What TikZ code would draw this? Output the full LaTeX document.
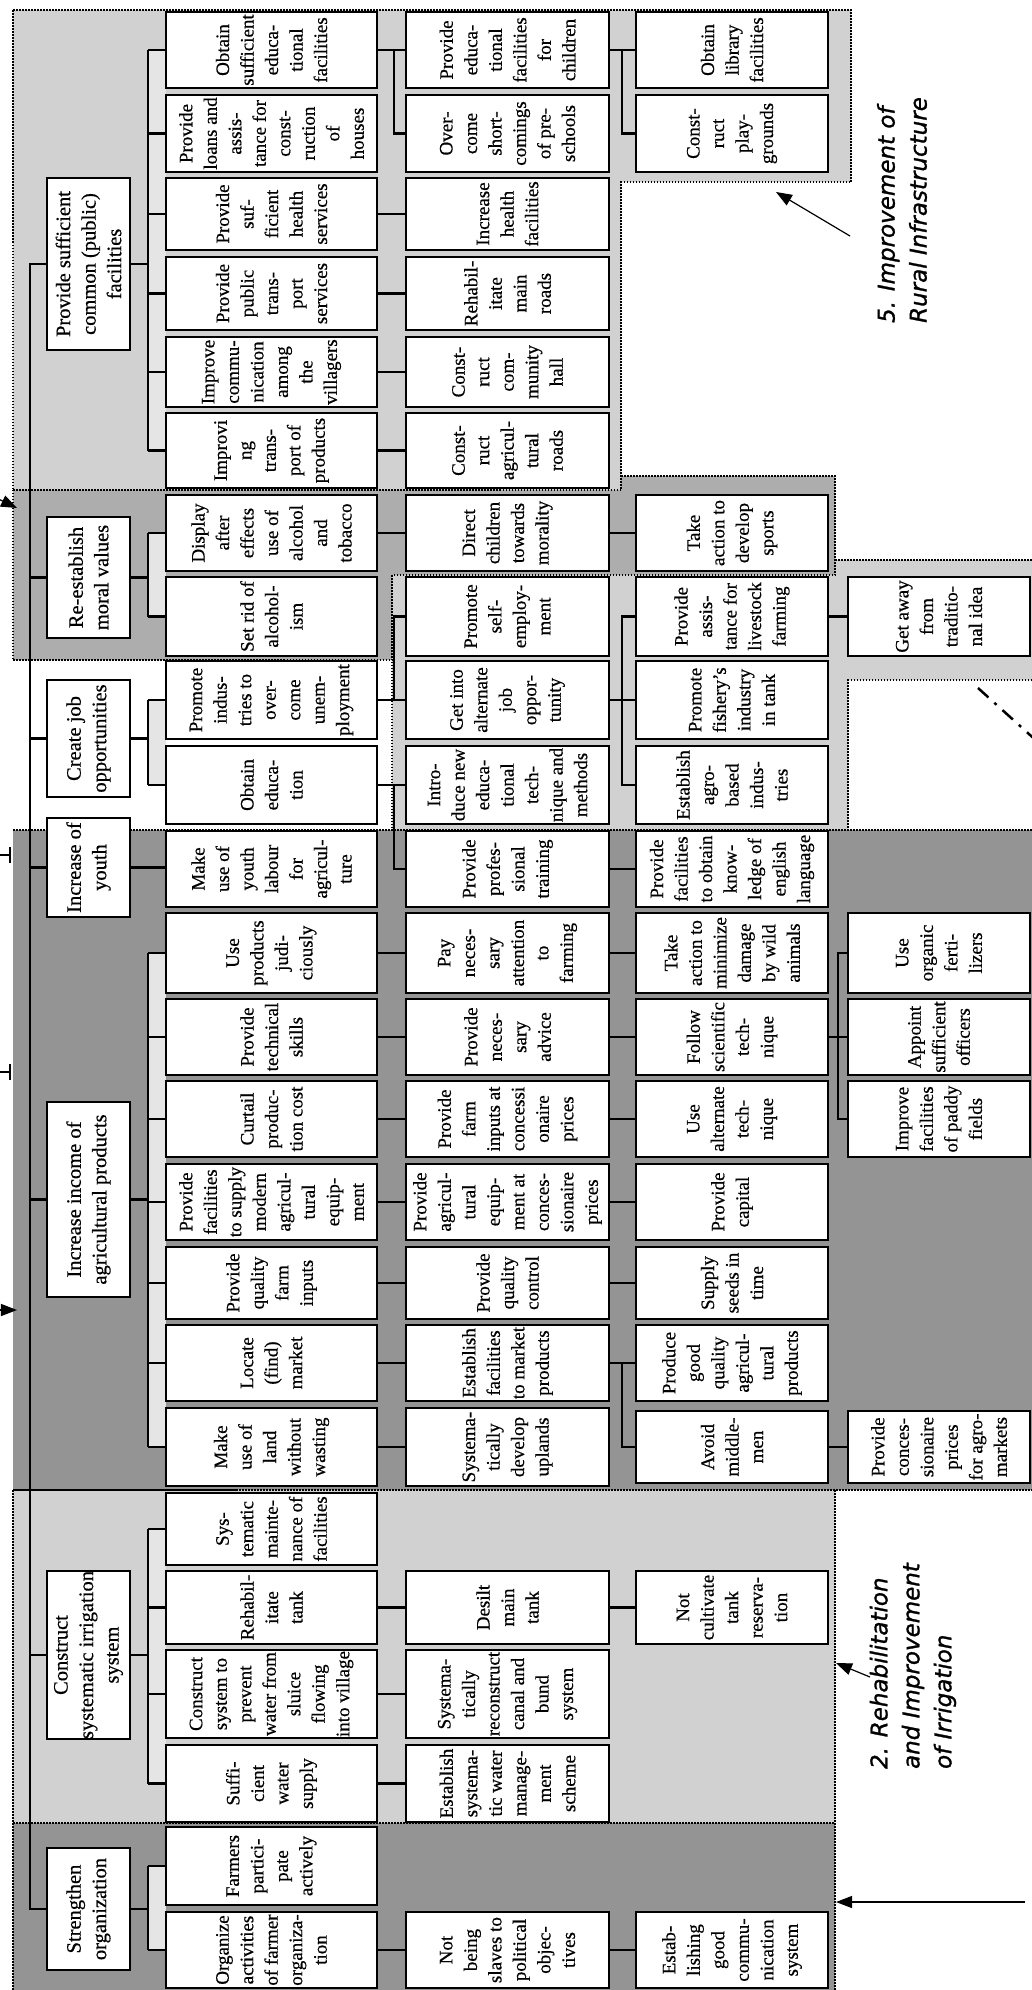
\documentclass[tikz,border=0pt]{standalone}
\usepackage{fontspec}
\setmainfont{Liberation Serif}[FakeBold=0.5]
\newfontfamily\labelfont{DejaVu Sans}[FakeBold=1.2]
\usetikzlibrary{arrows.meta}
\tikzset{
  cell/.style={
    rectangle, draw=black, line width=1.6pt, fill=white, rotate=90,
    align=center, inner sep=0pt, font=\fontsize{19}{24.5}\selectfont,
    minimum width=76pt
  },
  lvone/.style={cell, minimum height=83pt, font=\fontsize{20.5}{25.5}\selectfont},
  lvtwo/.style={cell, minimum height=211pt},
  lvthree/.style={cell, minimum height=203pt},
  lvfour/.style={cell, minimum height=192pt},
  lvfive/.style={cell, minimum height=182pt},
  conn/.style={line width=2.4pt, draw=black},
  railstrip/.style={fill=black!10},
  zoneborder/.style={line width=1.8pt, dash pattern=on 1.5pt off 1.5pt, draw=black},
  lightzone/.style={fill=black!18},
  midzone/.style={fill=black!32},
  darkzone/.style={fill=black!42},
  arealabel/.style={rotate=90, align=left, font=\labelfont\itshape\fontsize{23}{32}\selectfont},
  pointer/.style={-{Triangle[length=16pt, width=12pt]}, line width=1.2pt}
}
\begin{document}
\begin{tikzpicture}[x=1pt, y=-1pt]
\useasboundingbox (0,0) rectangle (1032,1990);

% shaded zones
\fill[lightzone] (13,10) -- (851,10) -- (851,182) -- (621,182) -- (621,490) -- (13,490) -- cycle;
\fill[midzone] (13,490) -- (621,490) -- (621,476) -- (835,476) -- (835,575) -- (392,575) -- (392,660) -- (13,660) -- cycle;
\fill[lightzone] (392,575) -- (835,575) -- (835,560) -- (1032,560) -- (1032,680) -- (848,680) -- (848,830) -- (392,830) -- cycle;
\fill[darkzone] (13,830) -- (1032,830) -- (1032,1490) -- (13,1490) -- cycle;
\fill[lightzone] (13,1490) -- (835,1490) -- (835,1823) -- (13,1823) -- cycle;
\fill[darkzone] (13,1823) -- (835,1823) -- (835,1990) -- (13,1990) -- cycle;

\draw[zoneborder] (13,10) -- (851,10) -- (851,182) -- (621,182) -- (621,490) -- (13,490) -- cycle;
\draw[zoneborder] (621,476) -- (835,476) -- (835,575) -- (392,575) -- (392,660) -- (13,660) -- (13,490);
\draw[zoneborder] (835,560) -- (1032,560) (1032,680) -- (848,680) -- (848,830) -- (392,830) -- (392,660);
\draw[zoneborder] (13,830) -- (1032,830) (1032,1490) -- (13,1490) -- cycle;
\draw[zoneborder] (835,1490) -- (835,1990) (13,1823) -- (835,1823) (13,1490) -- (13,1990);

% light strips behind the first rails
\fill[railstrip] (148,50) rectangle (166,450.5);
\fill[railstrip] (148,533) rectangle (166,616.5);
\fill[railstrip] (148,700) rectangle (166,785);
\fill[railstrip] (148,953) rectangle (166,1447);
\fill[railstrip] (148,1529) rectangle (166,1783.5);
\fill[railstrip] (148,1866) rectangle (166,1950);

% level 1
\node[lvone, minimum width=172pt] (fac) at (88.5,264) {Provide sufficient\\common (public)\\facilities};
\node[lvone, minimum width=121pt] (moral) at (88.5,577.5) {Re-establish\\moral values};
\node[lvone, minimum width=117pt] (job) at (88.5,738.5) {Create job\\opportunities};
\node[lvone, minimum width=99pt] (youth) at (88.5,867.5) {Increase of\\youth};
\node[lvone, minimum width=195pt] (income) at (88.5,1199.5) {Increase income of\\agricultural products};
\node[lvone, minimum width=156pt] (irrig) at (88.5,1655) {Construct\\systematic irrigation\\system};
\node[lvone, minimum width=122pt] (org) at (88.5,1909) {Strengthen\\organization};

% level 2
\node[lvtwo] (b1) at (271.5,50) {Obtain\\sufficient\\educa-\\tional\\facilities};
\node[lvtwo, minimum width=77pt] (b2) at (271.5,133.5) {Provide\\loans and\\assis-\\tance for\\const-\\ruction\\of\\houses};
\node[lvtwo, minimum width=72pt] (b3) at (271.5,214) {Provide\\suf-\\ficient\\health\\services};
\node[lvtwo, minimum width=73pt] (b4) at (271.5,293.5) {Provide\\public\\trans-\\port\\services};
\node[lvtwo, minimum width=70pt] (b5) at (271.5,372) {Improve\\commu-\\nication\\among\\the\\villagers};
\node[lvtwo, minimum width=75pt] (b6) at (271.5,450.5) {Improvi\\ng\\trans-\\port of\\products};
\node[lvtwo] (b7) at (271.5,533) {Display\\after\\effects\\use of\\alcohol\\and\\tobacco};
\node[lvtwo, minimum width=79pt] (b8) at (271.5,616.5) {Set rid of\\alcohol-\\ism};
\node[lvtwo, minimum width=78pt] (b9) at (271.5,700) {Promote\\indus-\\tries to\\over-\\come\\unem-\\ployment};
\node[lvtwo, minimum width=78pt] (b10) at (271.5,785) {Obtain\\educa-\\tion};
\node[lvtwo] (b11) at (271.5,869) {Make\\use of\\youth\\labour\\for\\agricul-\\ture};
\node[lvtwo, minimum width=80pt] (b12) at (271.5,953) {Use\\products\\judi-\\ciously};
\node[lvtwo] (b13) at (271.5,1037) {Provide\\technical\\skills};
\node[lvtwo] (b14) at (271.5,1119) {Curtail\\produc-\\tion cost};
\node[lvtwo] (b15) at (271.5,1202) {Provide\\facilities\\to supply\\modern\\agricul-\\tural\\equip-\\ment};
\node[lvtwo, minimum width=72pt] (b16) at (271.5,1283) {Provide\\quality\\farm\\inputs};
\node[lvtwo] (b17) at (271.5,1363) {Locate\\(find)\\market};
\node[lvtwo, minimum width=78pt] (b18) at (271.5,1447) {Make\\use of\\land\\without\\wasting};
\node[lvtwo, minimum width=72pt] (b19) at (271.5,1529) {Sys-\\tematic\\mainte-\\nance of\\facilities};
\node[lvtwo, minimum width=73pt] (b20) at (271.5,1607.5) {Rehabil-\\itate\\tank};
\node[lvtwo, minimum width=88pt] (b21) at (271.5,1694) {Construct\\system to\\prevent\\water from\\sluice\\flowing\\into village};
\node[lvtwo, minimum width=77pt] (b22) at (271.5,1783.5) {Suffi-\\cient\\water\\supply};
\node[lvtwo, minimum width=78pt] (b23) at (271.5,1866) {Farmers\\partici-\\pate\\actively};
\node[lvtwo] (b24) at (271.5,1950) {Organize\\activities\\of farmer\\organiza-\\tion};

% level 3
\node[lvthree] (c1) at (507.5,50) {Provide\\educa-\\tional\\facilities\\for\\children};
\node[lvthree, minimum width=77pt] (c2) at (507.5,133.5) {Over-\\come\\short-\\comings\\of pre-\\schools};
\node[lvthree, minimum width=72pt] (c3) at (507.5,214) {Increase\\health\\facilities};
\node[lvthree, minimum width=73pt] (c4) at (507.5,293.5) {Rehabil-\\itate\\main\\roads};
\node[lvthree, minimum width=70pt] (c5) at (507.5,372) {Const-\\ruct\\com-\\munity\\hall};
\node[lvthree, minimum width=75pt] (c6) at (507.5,450.5) {Const-\\ruct\\agricul-\\tural\\roads};
\node[lvthree] (c7) at (507.5,533) {Direct\\children\\towards\\morality};
\node[lvthree, minimum width=79pt] (c8) at (507.5,616.5) {Promote\\self-\\employ-\\ment};
\node[lvthree, minimum width=78pt] (c9) at (507.5,700) {Get into\\alternate\\job\\oppor-\\tunity};
\node[lvthree, minimum width=78pt] (c10) at (507.5,785) {Intro-\\duce new\\educa-\\tional\\tech-\\nique and\\methods};
\node[lvthree] (c11) at (507.5,869) {Provide\\profes-\\sional\\training};
\node[lvthree, minimum width=80pt] (c12) at (507.5,953) {Pay\\neces-\\sary\\attention\\to\\farming};
\node[lvthree] (c13) at (507.5,1037) {Provide\\neces-\\sary\\advice};
\node[lvthree] (c14) at (507.5,1119) {Provide\\farm\\inputs at\\concessi\\onaire\\prices};
\node[lvthree] (c15) at (507.5,1202) {Provide\\agricul-\\tural\\equip-\\ment at\\conces-\\sionaire\\prices};
\node[lvthree, minimum width=72pt] (c16) at (507.5,1283) {Provide\\quality\\control};
\node[lvthree] (c17) at (507.5,1363) {Establish\\facilities\\to market\\products};
\node[lvthree, minimum width=78pt] (c18) at (507.5,1447) {Systema-\\tically\\develop\\uplands};
\node[lvthree, minimum width=73pt] (c19) at (507.5,1607.5) {Desilt\\main\\tank};
\node[lvthree, minimum width=88pt] (c20) at (507.5,1694) {Systema-\\tically\\reconstruct\\canal and\\bund\\system};
\node[lvthree, minimum width=77pt] (c21) at (507.5,1783.5) {Establish\\systema-\\tic water\\manage-\\ment\\scheme};
\node[lvthree] (c22) at (507.5,1950) {Not\\being\\slaves to\\political\\objec-\\tives};

% level 4
\node[lvfour] (d1) at (732,50) {Obtain\\library\\facilities};
\node[lvfour, minimum width=77pt] (d2) at (732,133.5) {Const-\\ruct\\play-\\grounds};
\node[lvfour] (d3) at (732,533) {Take\\action to\\develop\\sports};
\node[lvfour, minimum width=79pt] (d4) at (732,616.5) {Provide\\assis-\\tance for\\livestock\\farming};
\node[lvfour, minimum width=78pt] (d5) at (732,700) {Promote\\fishery's\\industry\\in tank};
\node[lvfour, minimum width=78pt] (d6) at (732,785) {Establish\\agro-\\based\\indus-\\tries};
\node[lvfour] (d7) at (732,869) {Provide\\facilities\\to obtain\\know-\\ledge of\\english\\language};
\node[lvfour, minimum width=80pt] (d8) at (732,953) {Take\\action to\\minimize\\damage\\by wild\\animals};
\node[lvfour] (d9) at (732,1037) {Follow\\scientific\\tech-\\nique};
\node[lvfour] (d10) at (732,1119) {Use\\alternate\\tech-\\nique};
\node[lvfour] (d11) at (732,1202) {Provide\\capital};
\node[lvfour, minimum width=72pt] (d12) at (732,1283) {Supply\\seeds in\\time};
\node[lvfour] (d13) at (732,1363) {Produce\\good\\quality\\agricul-\\tural\\products};
\node[lvfour, minimum width=72pt] (d14) at (732,1447) {Avoid\\middle-\\men};
\node[lvfour, minimum width=73pt] (d15) at (732,1607.5) {Not\\cultivate\\tank\\reserva-\\tion};
\node[lvfour] (d16) at (732,1950) {Estab-\\lishing\\good\\commu-\\nication\\system};

% level 5
\node[lvfive, minimum width=79pt] (e1) at (939,616.5) {Get away\\from\\traditio-\\nal idea};
\node[lvfive, minimum width=80pt] (e2) at (939,953) {Use\\organic\\ferti-\\lizers};
\node[lvfive] (e3) at (939,1037) {Appoint\\sufficient\\officers};
\node[lvfive] (e4) at (939,1119) {Improve\\facilities\\of paddy\\fields};
\node[lvfive, minimum width=72pt] (e5) at (939,1447) {Provide\\conces-\\sionaire\\prices\\for agro-\\markets};

% connector rails (boxes are turned, so north = left side, south = right side)
\coordinate (spine) at (30,0);
\coordinate (barA) at (148,0);
\coordinate (barB) at (394,0);
\coordinate (barC) at (622,0);
\coordinate (barD) at (838,0);

% spine to level 1
\draw[conn] (fac.north) -- (fac.north -| spine) -- (org.north -| spine) -- (org.north);
\foreach \n in {moral,job,youth,income,irrig}
  \draw[conn] (\n.north -| spine) -- (\n.north);

% level 1 to level 2
\draw[conn] (fac.south) -- (fac.south -| barA);
\draw[conn] (b1.north -| barA) -- (b6.north -| barA);
\foreach \k in {1,...,6} \draw[conn] (b\k.north -| barA) -- (b\k.north);
\draw[conn] (moral.south) -- (moral.south -| barA);
\draw[conn] (b7.north -| barA) -- (b8.north -| barA);
\foreach \k in {7,8} \draw[conn] (b\k.north -| barA) -- (b\k.north);
\draw[conn] (job.south) -- (job.south -| barA);
\draw[conn] (b9.north -| barA) -- (b10.north -| barA);
\foreach \k in {9,10} \draw[conn] (b\k.north -| barA) -- (b\k.north);
\draw[conn] (youth.south) -- (youth.south -| b11.north);
\draw[conn] (income.south) -- (income.south -| barA);
\draw[conn] (b12.north -| barA) -- (b18.north -| barA);
\foreach \k in {12,...,18} \draw[conn] (b\k.north -| barA) -- (b\k.north);
\draw[conn] (irrig.south) -- (irrig.south -| barA);
\draw[conn] (b19.north -| barA) -- (b22.north -| barA);
\foreach \k in {19,...,22} \draw[conn] (b\k.north -| barA) -- (b\k.north);
\draw[conn] (org.south) -- (org.south -| barA);
\draw[conn] (b23.north -| barA) -- (b24.north -| barA);
\foreach \k in {23,24} \draw[conn] (b\k.north -| barA) -- (b\k.north);

% level 2 to level 3
\draw[conn] (b1.south) -- (c1.north);
\draw[conn] (c1.north -| barB) -- (c2.north -| barB) -- (c2.north);
\foreach \a/\b in {b3/c3,b4/c4,b5/c5,b6/c6,b7/c7,b12/c12,b13/c13,b14/c14,b15/c15,b16/c16,b17/c17,b18/c18,b20/c19,b21/c20,b22/c21,b24/c22}
  \draw[conn] (\a.south) -- (\a.south -| \b.north);
\draw[conn] (b9.south) -- (c9.north);
\draw[conn] (c9.north -| barB) -- (c8.north -| barB) -- (c8.north);
\draw[conn] (b10.south) -- (c10.north);
\draw[conn] (c10.north -| barB) -- (c11.north -| barB) -- (c11.north);

% level 3 to level 4
\draw[conn] (c1.south) -- (d1.north);
\draw[conn] (d1.north -| barC) -- (d2.north -| barC) -- (d2.north);
\foreach \a/\b in {c7/d3,c11/d7,c12/d8,c13/d9,c14/d10,c15/d11,c16/d12,c19/d15,c22/d16}
  \draw[conn] (\a.south) -- (\a.south -| \b.north);
\draw[conn] (c9.south) -- (d5.north);
\draw[conn] (d4.north) -- (d4.north -| barC) -- (d6.north -| barC) -- (d6.north);
\draw[conn] (c17.south) -- (d13.north);
\draw[conn] (d13.north -| barC) -- (d14.north -| barC) -- (d14.north);

% level 4 to level 5
\draw[conn] (d4.south) -- (e1.north);
\draw[conn] (d9.south) -- (e3.north);
\draw[conn] (e2.north) -- (e2.north -| barD) -- (e4.north -| barD) -- (e4.north);
\draw[conn] (d14.south) -- (d14.south -| e5.north);

% area labels
\node[arealabel] (lab5) at (902,210) {5. Improvement of\\Rural Infrastructure};
\node[arealabel] (lab2) at (913,1666) {2. Rehabilitation\\and Improvement\\of Irrigation};
\coordinate (p5) at (850,236);
\coordinate (t5) at (776,192);
\draw[pointer] (p5) -- (t5);
\coordinate (p2) at (870,1677);
\coordinate (t2) at (836,1663);
\draw[pointer] (p2) -- (t2);
\coordinate (q2) at (1025,1902);
\coordinate (u2) at (836,1902);
\draw[pointer] (q2) -- (u2);
\coordinate (p3) at (978,688);
\coordinate (t3) at (1040,744);
\draw[line width=2.5pt, dash pattern=on 14pt off 8pt on 3pt off 8pt] (p3) -- (t3);

% pointers and marks entering from the left
\coordinate (p1) at (-12,494);
\coordinate (t1) at (17,508);
\draw[pointer] (p1) -- (t1);
\coordinate (p4) at (-12,1310);
\coordinate (t4) at (17,1310);
\draw[pointer] (p4) -- (t4);
\draw[line width=1.2pt] (0,855) -- (10,855) (10,847) -- (10,863);
\draw[line width=1.2pt] (0,1072) -- (10,1072) (10,1064) -- (10,1080);
\end{tikzpicture}
\end{document}
